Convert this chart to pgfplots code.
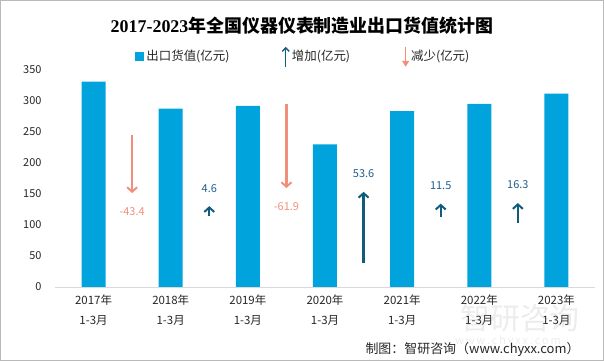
\documentclass[border=0pt]{standalone}
\usepackage{pgfplots}
\pgfplotsset{compat=1.18}
\usepackage{pgfplotstable}
\usepackage{fontspec}
\setmainfont{Noto Sans CJK SC}
\newfontfamily\serifnum{Liberation Serif}
\usetikzlibrary{arrows.meta}
\definecolor{barc}{HTML}{00A3DB}
\definecolor{upc}{HTML}{125C7B}
\definecolor{uplab}{HTML}{1F5E8C}
\definecolor{downc}{HTML}{F0907A}

\pgfplotstableread{
x y
0 330.0
1 286.6
2 291.2
3 229.3
4 282.9
5 294.4
6 310.7
}\bars

\pgfplotstableread{
x y v
1.5 114 16
3.5 39 114
4.5 113 21
5.5 103 32
}\ups

\pgfplotstableread{
x y v
0.5 245 -94
2.5 295 -136
}\downs

\pgfplotstableread{
x y t
1.5 159 4.6
3.5 182 53.6
4.5 163 11.5
5.5 164 16.3
}\uplabels

\pgfplotstableread{
x y t
0.5 122 -43.4
2.5 130 -61.9
}\downlabels

\begin{document}
\begin{tikzpicture}
\path[use as bounding box] (0,0) rectangle (604bp,361bp);
\draw[gray!55, line width=1bp] (0.5bp,0.5bp) rectangle (603.5bp,360.5bp);
\begin{axis}[
  scale only axis,
  width=540bp, height=217.7bp,
  at={(55bp,74bp)}, anchor=south west,
  xmin=-0.5, xmax=6.5, ymin=0, ymax=350,
  ytick={0,50,...,350},
  xtick={0,...,6},
  xticklabels={{2017年\\1-3月},{2018年\\1-3月},{2019年\\1-3月},{2020年\\1-3月},{2021年\\1-3月},{2022年\\1-3月},{2023年\\1-3月}},
  axis x line*=bottom, axis y line*=left,
  y axis line style={draw=none},
  x axis line style={draw=black!15, line width=1bp, -},
  major tick length=0pt,
  tick style={draw=none},
  /pgf/number format/assume math mode=true,
  xticklabel style={align=center, font=\fontsize{11.5}{20}\selectfont, yshift=-4bp, text=black!85},
  yticklabel style={anchor=east, xshift=-10bp, font=\fontsize{11}{13}\selectfont, text=black!85},
  legend style={draw=none, fill=none, at={(0.46,1.057)}, anchor=center,
    legend columns=3, font=\fontsize{12.5}{14}\selectfont, text=black!85,
    /tikz/every even column/.append style={column sep=50bp}},
  legend cell align=left,
]
\addplot[ybar, bar width=24bp, fill=barc, draw=none, area legend,
  legend image code/.code={\fill[barc] (0bp,-4.5bp) rectangle (9bp,4.5bp);}] table[x=x,y=y] {\bars};
\addlegendentry{出口货值(亿元)}
\addplot[quiver={u=0, v=\thisrow{v},
    every arrow/.append style={line width=2.2bp, -{Straight Barb[length=4.5bp,width=10bp,line width=2bp]}}},
  upc,
  legend image code/.code={\draw[-{Straight Barb[length=3.5bp,width=7bp,line width=1.4bp]}, line width=1.4bp, upc] (0.2cm,-0.38cm) -- (0.2cm,0.32cm);}] table[x=x,y=y] {\ups};
\addlegendentry{增加(亿元)}
\addplot[quiver={u=0, v=\thisrow{v},
    every arrow/.append style={line width=2.2bp, -{Straight Barb[length=4.5bp,width=10bp,line width=2bp]}}},
  downc,
  legend image code/.code={\draw[-{Triangle[length=6bp,width=7bp]}, line width=1.4bp, downc] (0.2cm,0.32cm) -- (0.2cm,-0.38cm);}] table[x=x,y=y] {\downs};
\addlegendentry{减少(亿元)}
\addplot[draw=none, mark=none, nodes near coords, point meta=explicit symbolic,
  every node near coord/.append style={anchor=center, text=uplab, font=\fontsize{11}{13}\selectfont}, forget plot]
  table[x=x,y=y,meta=t] {\uplabels};
\addplot[draw=none, mark=none, nodes near coords, point meta=explicit symbolic,
  every node near coord/.append style={anchor=center, text=downc, font=\fontsize{11}{13}\selectfont}, forget plot]
  table[x=x,y=y,meta=t] {\downlabels};
\end{axis}
\node at (302bp,335bp) {\fontsize{18}{20}\selectfont\bfseries{\serifnum\bfseries 2017-2023}年全国仪器仪表制造业出口货值统计图};
\node[anchor=center, text=gray, opacity=0.15] at (520bp,43bp) {\fontsize{30}{32}\selectfont 智研咨询};
\node[anchor=center, text=gray, opacity=0.15] at (508bp,19.5bp) {\fontsize{11}{12}\selectfont w\,w\,w\,.\,c\,h\,y\,x\,x\,.\,c\,o\,m};
\node[anchor=east, text=black!85] at (583bp,12bp) {\fontsize{13}{15}\selectfont 制图：智研咨询（www.chyxx.com）};
\end{tikzpicture}
\end{document}
